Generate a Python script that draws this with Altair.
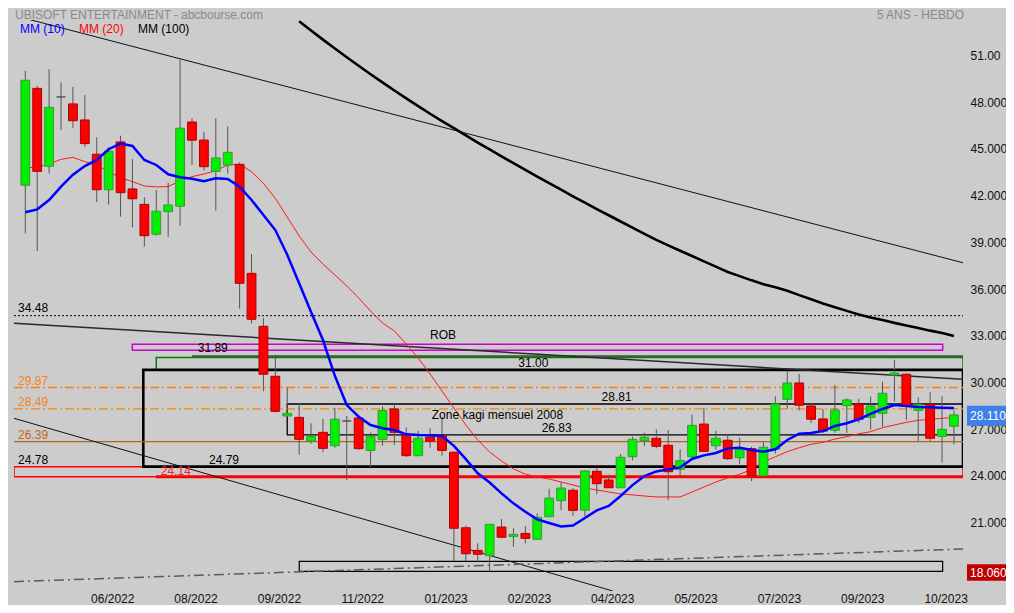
import altair as alt
import pandas as pd

# ---------------- data (weekly candles) ----------------
opens = [42.86, 49.08, 44.08, 48.53, 48.08, 47.05, 44.85, 42.57, 45.64, 42.62,
         41.63, 39.71, 41.16, 41.51, 46.92, 45.76, 43.75, 44.16, 44.20, 37.20,
         33.80, 30.59, 28.04, 27.95, 26.43, 26.99, 26.13, 27.72, 27.91, 25.83,
         26.54, 28.49, 26.82, 25.49, 26.69, 26.80, 25.71, 20.86, 19.41, 19.07,
         20.91, 20.31, 20.50, 20.12, 21.57, 22.60, 23.27, 21.99, 24.49, 23.93,
         23.43, 25.42, 26.45, 26.61, 26.16, 24.61, 25.42, 27.52, 26.13, 26.48,
         25.36, 25.94, 24.20, 25.90, 29.11, 30.16, 28.68, 27.85, 27.12, 28.70,
         28.81, 27.95, 28.21, 30.67, 30.72, 28.40, 28.79, 26.73, 27.38]
highs = [50.20, 49.23, 50.32, 49.47, 49.17, 48.65, 45.94, 45.30, 46.04, 44.54,
         42.10, 42.55, 43.02, 51.01, 47.16, 46.28, 47.16, 46.64, 44.33, 38.44,
         34.33, 31.96, 29.86, 28.85, 27.57, 27.85, 28.57, 28.04, 28.08, 26.99,
         28.66, 28.83, 27.31, 27.08, 27.25, 27.97, 25.75, 21.00, 19.86, 21.08,
         21.42, 20.83, 20.97, 21.79, 23.37, 23.78, 23.40, 24.57, 24.74, 24.27,
         25.60, 26.71, 26.97, 27.18, 27.14, 25.90, 28.12, 28.57, 27.09, 26.86,
         26.64, 26.07, 26.35, 29.30, 30.93, 30.74, 28.85, 28.49, 30.03, 29.17,
         29.15, 29.28, 30.24, 31.64, 30.78, 29.24, 29.56, 29.30, 28.38]
lows = [39.77, 38.62, 43.60, 46.41, 46.54, 45.31, 41.78, 41.61, 40.84, 40.16,
        38.91, 39.62, 39.55, 40.26, 44.16, 43.79, 41.22, 43.60, 34.93, 33.99,
        29.62, 28.27, 27.98, 25.55, 26.26, 25.71, 26.00, 23.91, 25.87, 24.74,
        26.13, 26.19, 25.41, 25.45, 26.00, 25.49, 18.73, 18.73, 18.64, 18.06,
        20.23, 19.64, 19.86, 20.07, 21.57, 22.00, 21.63, 21.61, 23.01, 23.43,
        23.43, 25.19, 26.11, 25.96, 22.64, 24.04, 25.34, 25.73, 25.87, 25.21,
        24.94, 23.86, 24.20, 25.62, 28.53, 28.40, 27.59, 26.95, 26.97, 26.95,
        27.59, 27.16, 27.35, 28.96, 27.78, 26.43, 26.43, 25.04, 26.22]
closes = [49.60, 43.75, 47.86, 48.53, 47.00, 45.53, 42.57, 45.04, 42.38, 41.99,
          39.62, 41.19, 41.59, 46.52, 45.75, 44.05, 44.61, 44.97, 36.56, 34.25,
          30.72, 28.34, 28.21, 26.54, 26.73, 25.96, 27.83, 27.72, 25.94, 26.73,
          28.40, 26.99, 25.49, 26.61, 26.43, 25.83, 20.83, 19.19, 19.16, 21.08,
          20.25, 20.44, 20.18, 21.53, 22.77, 23.41, 21.98, 24.51, 23.69, 23.43,
          25.39, 26.54, 26.67, 26.09, 24.46, 25.17, 27.44, 25.77, 26.61, 25.30,
          25.92, 24.20, 26.03, 28.81, 30.16, 28.73, 27.83, 27.07, 28.42, 29.07,
          27.83, 28.68, 29.50, 30.80, 28.70, 28.79, 26.61, 27.18, 28.11]

mm10 = [41.12, 41.31, 41.91, 42.77, 43.54, 44.09, 44.48, 45.17, 45.53, 45.38,
        44.48, 44.16, 43.56, 43.37, 43.28, 43.11, 43.30, 43.26, 42.77, 41.91,
        40.95, 39.98, 38.40, 36.56, 34.72, 32.92, 30.62, 28.74, 27.99, 27.46,
        27.25, 27.14, 26.86, 26.82, 26.80, 26.75, 26.12, 25.27, 24.36, 23.77,
        23.07, 22.43, 21.89, 21.40, 21.17, 20.95, 21.00, 21.49, 21.98, 22.26,
        22.90, 23.60, 24.18, 24.48, 24.61, 24.74, 25.28, 25.51, 25.66, 25.96,
        26.00, 25.85, 25.75, 25.90, 26.50, 26.90, 26.95, 27.07, 27.40, 27.57,
        27.83, 28.17, 28.49, 28.74, 28.68, 28.62, 28.60, 28.57, 28.55]
mm20 = [43.99, 44.01, 44.22, 44.52, 44.65, 44.37, 44.14, 43.73, 43.34, 43.09,
        42.81, 42.75, 42.77, 43.15, 43.41, 43.58, 43.79, 44.16, 44.20, 43.73,
        42.98, 42.02, 40.82, 39.60, 38.57, 37.80, 37.10, 36.39, 35.62, 34.78,
        34.01, 33.50, 32.66, 31.76, 30.74, 29.64, 28.55, 27.46, 26.50, 25.73,
        25.15, 24.64, 24.31, 24.12, 23.99, 23.80, 23.61, 23.41, 23.29, 23.16,
        23.03, 22.97, 22.90, 22.84, 22.84, 22.84, 23.16, 23.48, 23.80, 24.06,
        24.30, 24.60, 25.10, 25.42, 25.75, 26.00, 26.22, 26.35, 26.56, 26.71,
        26.90, 27.03, 27.29, 27.46, 27.63, 27.76, 27.83, 27.89, 27.95]
mm100_first = 23
mm100 = [53.39, 52.80, 52.21, 51.64, 51.08, 50.53, 49.99, 49.46, 48.94, 48.44,
         47.94, 47.45, 46.98, 46.52, 46.06, 45.60, 45.16, 44.71, 44.28, 43.84,
         43.41, 42.99, 42.57, 42.15, 41.74, 41.33, 40.93, 40.53, 40.13, 39.74,
         39.35, 39.00, 38.65, 38.31, 37.97, 37.63, 37.29, 37.02, 36.75, 36.50,
         36.30, 36.08, 35.80, 35.53, 35.26, 35.02, 34.79, 34.56, 34.36, 34.20,
         34.02, 33.85, 33.69, 33.52, 33.37, 33.17]

date_labels = ["06/2022", "08/2022", "09/2022", "11/2022", "01/2023", "02/2023",
               "04/2023", "05/2023", "07/2023", "09/2023", "10/2023"]
date_label_pos = [7.3, 14.3, 21.3, 28.3, 35.3, 42.3, 49.3, 56.3, 63.3, 70.3, 77.3]
price_ticks = [21, 24, 27, 30, 33, 36, 39, 42, 45, 48, 51]

# analyst levels / zones (values)
dotted_level = 34.48
rob_zone = (32.64, 32.26)
level_3189 = 31.89
green_zone = (31.80, 31.00)
black_zone = (31.00, 24.79)
orange_levels = [29.87, 28.49]
kagi_zone = (28.81, 26.83)
brown_level = 26.39
red_zone = (24.78, 24.14)
red_level = 24.14
bottom_zone = (18.70, 18.06)
last_price = 28.11
low_price = 18.06

XMIN, XMAX = -0.95, 78.76
YMIN, YMAX = 16.80, 53.47
W, H = 949, 571
FONT = "Liberation Sans"

# ---------------- frames ----------------
n = len(opens)
df = pd.DataFrame({"i": list(range(n)), "open": opens, "high": highs,
                   "low": lows, "close": closes})
df["dir"] = ["up" if c > o else ("down" if c < o else "flat") for o, c in zip(opens, closes)]
df["top"] = df[["open", "close"]].max(axis=1)
df["bot"] = df[["open", "close"]].min(axis=1)
df["x0"] = df["i"] - 0.37
df["x1"] = df["i"] + 0.37

ma_df = pd.DataFrame({"i": list(range(n)), "mm10": mm10, "mm20": mm20})
ma100_df = pd.DataFrame({"i": list(range(mm100_first, mm100_first + len(mm100))), "v": mm100})

XS = alt.Scale(domain=[XMIN, XMAX], nice=False, zero=False)
YS = alt.Scale(domain=[YMIN, YMAX], nice=False, zero=False)

x_expr = "''"
for pos, lab in reversed(list(zip(date_label_pos, date_labels))):
    x_expr = f"abs(datum.value - {pos}) < 0.01 ? '{lab}' : ({x_expr})"

x_axis = alt.Axis(values=date_label_pos, labelExpr=x_expr, domain=False, ticks=False,
                  grid=False, title=None, labelFontSize=12, labelColor="#111111",
                  labelPadding=2, labelOverlap=False, labelFlush=False, labelFont=FONT)
y_axis = alt.Axis(orient="right", values=price_ticks,
                  labelExpr="datum.value == 51 ? '51.00' : format(datum.value, '.3f')",
                  domain=False, ticks=False, grid=False, title=None, labelFontSize=12,
                  labelColor="#111111", labelAlign="left", labelPadding=7,
                  labelOffset=-3, labelOverlap=False, labelFlush=False, labelFont=FONT)


def X(field):
    return alt.X(field, type="quantitative", scale=XS, axis=x_axis)


def Y(field):
    return alt.Y(field, type="quantitative", scale=YS, axis=y_axis)


layers = []

# zones (rectangles outlined)
zones = pd.DataFrame([
    {"x": 8.99, "x2": 77.05, "y": rob_zone[0], "y2": rob_zone[1], "c": "#CC00CC", "w": 1.5},
    {"x": 11.0, "x2": XMAX, "y": green_zone[0], "y2": green_zone[1], "c": "#008000", "w": 1.5},
    {"x": XMIN, "x2": XMAX, "y": red_zone[0], "y2": red_zone[1], "c": "#FF0000", "w": 1.5},
    {"x": 22.0, "x2": XMAX, "y": kagi_zone[0], "y2": kagi_zone[1], "c": "#000000", "w": 1.3},
    {"x": 9.91, "x2": XMAX, "y": black_zone[0], "y2": black_zone[1], "c": "#000000", "w": 2.6},
    {"x": 23.01, "x2": 77.05, "y": bottom_zone[0], "y2": bottom_zone[1], "c": "#000000", "w": 1.2},
])
layers.append(alt.Chart(zones).mark_rect(fillOpacity=0, clip=True).encode(
    x=X("x"), x2="x2:Q", y=Y("y"), y2="y2:Q",
    stroke=alt.Stroke("c:N", scale=None), strokeWidth=alt.StrokeWidth("w:Q", scale=None)))


def hline(vals, x0, x1, color, width, dash=None):
    d = pd.DataFrame({"v": vals, "a": [x0] * len(vals), "b": [x1] * len(vals)})
    kw = {"color": color, "strokeWidth": width, "clip": True}
    if dash is not None:
        kw["strokeDash"] = dash
    return alt.Chart(d).mark_rule(**kw).encode(x=X("a"), x2="b:Q", y=Y("v"))


layers.append(hline([dotted_level], XMIN, XMAX, "#000000", 1, [2, 2]))
layers.append(hline([level_3189], 14.0, XMAX, "#000000", 1))
layers.append(hline(orange_levels, XMIN, XMAX, "#FF8000", 1.3, [9, 3, 2, 3]))
layers.append(hline([brown_level], XMIN, XMAX, "#B8621A", 1.3))
layers.append(hline([red_level], 10.98, XMAX, "#FF0000", 3))


# trend lines (two end points each)
def tline(pts, color, width, dash=None):
    d = pd.DataFrame({"x": [p[0] for p in pts], "y": [p[1] for p in pts]})
    kw = {"color": color, "strokeWidth": width, "clip": True}
    if dash is not None:
        kw["strokeDash"] = dash
    return alt.Chart(d).mark_line(**kw).encode(x=X("x"), y=Y("y"))


layers.append(tline([(0.4, 53.49), (78.76, 37.88)], "#111111", 1))
layers.append(tline([(XMIN, 33.99), (XMAX, 30.40)], "#2a2a2a", 1.5))
layers.append(tline([(XMIN, 27.89), (49.35, 16.80)], "#111111", 1))
layers.append(tline([(XMIN, 17.40), (XMAX, 19.50)], "#5a5a5a", 1.5, [10, 4, 2, 4]))

# moving averages
layers.append(alt.Chart(ma100_df).mark_line(color="#000000", strokeWidth=2.6, clip=True).encode(
    x=X("i"), y=Y("v")))
layers.append(alt.Chart(ma_df).mark_line(color="#FF1A1A", strokeWidth=1, clip=True).encode(
    x=X("i"), y=Y("mm20")))

# candles
layers.append(alt.Chart(df).mark_rule(color="#555555", strokeWidth=1).encode(
    x=X("i"), y=Y("low"), y2="high:Q"))
layers.append(alt.Chart(df).mark_rect(strokeWidth=1).encode(
    x=X("x0"), x2="x1:Q", y=Y("top"), y2="bot:Q",
    fill=alt.Fill("dir:N", scale=alt.Scale(domain=["up", "down", "flat"],
                                           range=["#00F000", "#FF0000", "#555555"]), legend=None),
    stroke=alt.Stroke("dir:N", scale=alt.Scale(domain=["up", "down", "flat"],
                                               range=["#3C963C", "#B00000", "#555555"]), legend=None)))

layers.append(alt.Chart(ma_df).mark_line(color="#0000FF", strokeWidth=2.5, clip=True).encode(
    x=X("i"), y=Y("mm10")))

# level labels
labels = pd.DataFrame([
    {"t": "34.48", "x": -0.61, "y": 34.96, "c": "#000000", "a": "left"},
    {"t": "ROB", "x": 35.09, "y": 33.23, "c": "#000000", "a": "center"},
    {"t": "31.89", "x": 14.48, "y": 32.39, "c": "#000000", "a": "left"},
    {"t": "31.00", "x": 42.67, "y": 31.46, "c": "#000000", "a": "center"},
    {"t": "29.87", "x": -0.61, "y": 30.29, "c": "#F5821F", "a": "left"},
    {"t": "28.49", "x": -0.61, "y": 28.96, "c": "#F5821F", "a": "left"},
    {"t": "28.81", "x": 49.66, "y": 29.28, "c": "#000000", "a": "center"},
    {"t": "Zone kagi mensuel 2008", "x": 39.66, "y": 28.10, "c": "#000000", "a": "center"},
    {"t": "26.83", "x": 44.63, "y": 27.29, "c": "#000000", "a": "center"},
    {"t": "26.39", "x": -0.61, "y": 26.82, "c": "#C0661A", "a": "left"},
    {"t": "24.78", "x": -0.61, "y": 25.21, "c": "#000000", "a": "left"},
    {"t": "24.79", "x": 16.69, "y": 25.21, "c": "#000000", "a": "center"},
    {"t": "24.14", "x": 12.64, "y": 24.52, "c": "#FF2020", "a": "center"},
])
for al in ["left", "center"]:
    layers.append(alt.Chart(labels[labels["a"] == al]).mark_text(
        align=al, baseline="middle", fontSize=12, font=FONT).encode(
        x=X("x"), y=Y("y"), text="t:N", color=alt.Color("c:N", scale=None)))

# price tags on the right
tags = pd.DataFrame([
    {"y": last_price + 0.59, "y2": last_price - 0.69, "ty": last_price - 0.05,
     "t": "28.110", "c": "#3F80E8"},
    {"y": low_price + 0.45, "y2": low_price - 0.60, "ty": low_price - 0.10,
     "t": "18.060", "c": "#C00000"},
])
layers.append(alt.Chart(tags).mark_rect().encode(
    x=alt.value(953), x2=alt.value(992),
    y=Y("y"), y2="y2:Q", fill=alt.Fill("c:N", scale=None)))
layers.append(alt.Chart(tags).mark_text(align="left", baseline="middle", fontSize=12,
                                        font=FONT, color="#FFFFFF").encode(
    x=alt.value(956), y=Y("ty"), text="t:N"))

# header texts (pixel positions)
header = pd.DataFrame([
    {"t": "UBISOFT ENTERTAINMENT", "px": 1, "py": -5, "c": "#8A8A8A", "a": "left"},
    {"t": "-", "px": 160, "py": -5, "c": "#E06060", "a": "left"},
    {"t": "abcbourse.com", "px": 167, "py": -5, "c": "#8A8A8A", "a": "left"},
    {"t": "MM (10)", "px": 6, "py": 9, "c": "#0000FF", "a": "left"},
    {"t": "MM (20)", "px": 65, "py": 9, "c": "#FF0000", "a": "left"},
    {"t": "MM (100)", "px": 124, "py": 9, "c": "#000000", "a": "left"},
    {"t": "5 ANS - HEBDO", "px": 950, "py": -5, "c": "#8A8A8A", "a": "right"},
])
for al in ["left", "right"]:
    layers.append(alt.Chart(header[header["a"] == al]).mark_text(
        align=al, baseline="middle", fontSize=12, font=FONT).encode(
        x=alt.X("px:Q", scale=None), y=alt.Y("py:Q", scale=None),
        text="t:N", color=alt.Color("c:N", scale=None)))

chart = alt.layer(*layers).properties(
    width=W, height=H, background="#CCCCCC", autosize="none",
    padding={"left": 6, "top": 12, "right": 43, "bottom": 14},
).configure_view(strokeWidth=0)

chart.save("out.html", embed_options={"renderer": "svg", "actions": False})
